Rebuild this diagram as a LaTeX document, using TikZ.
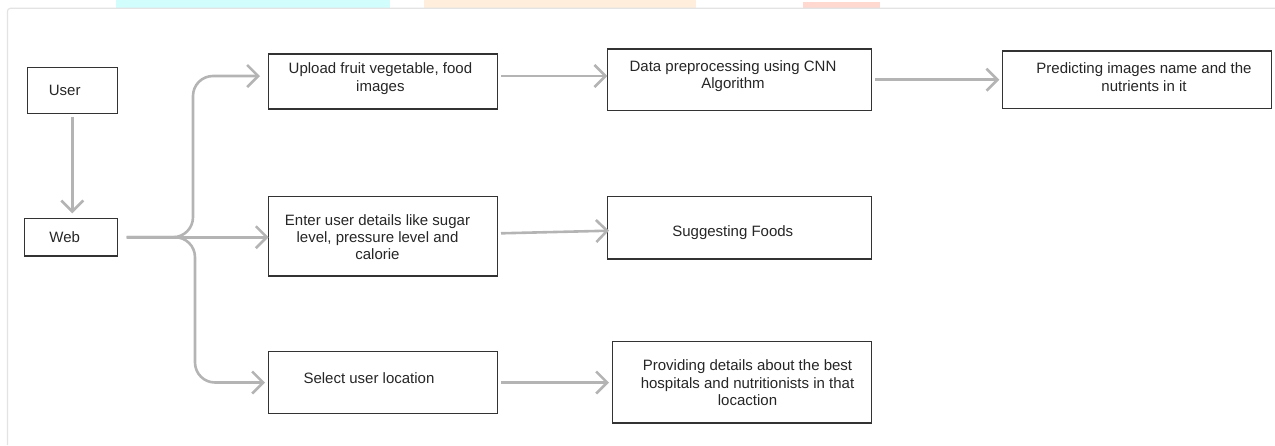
\documentclass[tikz,border=0pt]{standalone}
\usepackage{fontspec}
\setmainfont{Liberation Sans}
\usetikzlibrary{arrows.meta}
\definecolor{boxline}{HTML}{333333}
\definecolor{arrowgray}{HTML}{B4B4B4}
\definecolor{txt}{HTML}{262626}
\definecolor{panelgray}{HTML}{E3E3E3}
\definecolor{wmcyan}{HTML}{D2FDFD}
\definecolor{wmorange}{HTML}{FFEEDC}
\definecolor{wmred}{HTML}{FFD8D0}
\tikzset{
  box/.style={draw=boxline, line width=1.3pt, inner sep=0pt, outer sep=0pt, fill=white},
  lbl/.style={text=txt, font=\fontsize{15}{17.3}\selectfont, align=center, inner sep=0pt},
  arr/.style={draw=arrowgray, line width=2.6pt, -{Straight Barb[length=11pt,width=22pt]}},
}
\begin{document}
\begin{tikzpicture}[x=1pt,y=-1pt]
\useasboundingbox (0,0) rectangle (1275,445);
% watermark strips and panel
\fill[wmcyan] (116,0) rectangle (390,8.3);
\fill[wmorange] (424,0) rectangle (696,8.3);
\fill[wmred] (803,2) rectangle (880,8.3);
\draw[panelgray, line width=1.2pt, rounded corners=3pt] (7.4,445) -- (7.4,8.3) -- (1276,8.3);

% boxes
\node[box, minimum width=90pt, minimum height=46pt] (user) at (72.3,90.3) {};
\node[box, minimum width=93pt, minimum height=37.7pt] (web) at (70.8,237.2) {};
\node[box, minimum width=229pt, minimum height=55pt] (upload) at (383.2,81.5) {};
\node[box, minimum width=229pt, minimum height=79.3pt] (enter) at (383.2,236.3) {};
\node[box, minimum width=229pt, minimum height=62.4pt] (select) at (383.2,382.5) {};
\node[box, minimum width=264.4pt, minimum height=61.3pt] (data) at (739.5,79.7) {};
\node[box, minimum width=264.4pt, minimum height=62.3pt] (suggest) at (739.5,227.8) {};
\node[box, minimum width=259.4pt, minimum height=81.7pt] (provide) at (742,382.2) {};
\node[box, minimum width=269pt, minimum height=57.3pt] (predict) at (1136.8,79.7) {};

% labels
\node[lbl] (tuser) at (64.7,90.3) {User};
\node[lbl] (tweb) at (64.7,237) {Web};
\node[lbl] (tupload) at (380.4,78.6) {Upload fruit vegetable, food\\images};
\node[lbl] (tenter) at (377.5,237.3) {Enter user details like sugar\\level, pressure level and\\calorie};
\node[lbl] (tselect) at (369,377.7) {Select user location};
\node[lbl] (tdata) at (733,76.3) {Data preprocessing using CNN\\Algorithm};
\node[lbl] (tsuggest) at (732.8,232.6) {Suggesting Foods};
\node[lbl] (tprovide) at (747.5,382.8) {Providing details about the best\\hospitals and nutritionists in that\\locaction};
\node[lbl] (tpredict) at (1144,77) {Predicting images name and the\\nutrients in it};

% connectors
\draw[arr] ([yshift=-3.4pt]user.south) -- ([yshift=5pt]user.south |- web.north);
\draw[arr, rounded corners=20pt] ([xshift=9.4pt]web.east) -- (193,237.2) -- (193,76) -- ([xshift=-8.7pt,yshift=5.5pt]upload.west);
\draw[arr] ([xshift=9.4pt]web.east) -- (web.east -| enter.west);
\draw[arr, rounded corners=20pt] ([xshift=9.4pt]web.east) -- (195,237.2) -- (195,382.5) -- ([xshift=-3.7pt]select.west);
\draw[arr] ([xshift=3.3pt,yshift=5.5pt]upload.east) -- ([yshift=5.5pt]upload.east -| data.west);
\draw[arr] ([xshift=3.3pt,yshift=3pt]enter.east) -- ([xshift=1.7pt,yshift=-2.9pt]suggest.west);
\draw[arr] ([xshift=3.3pt]select.east) -- ([xshift=-3.3pt]select.east -| provide.west);
\draw[arr] ([xshift=3.3pt]data.east) -- ([xshift=-3pt]data.east -| predict.west);
\end{tikzpicture}
\end{document}
